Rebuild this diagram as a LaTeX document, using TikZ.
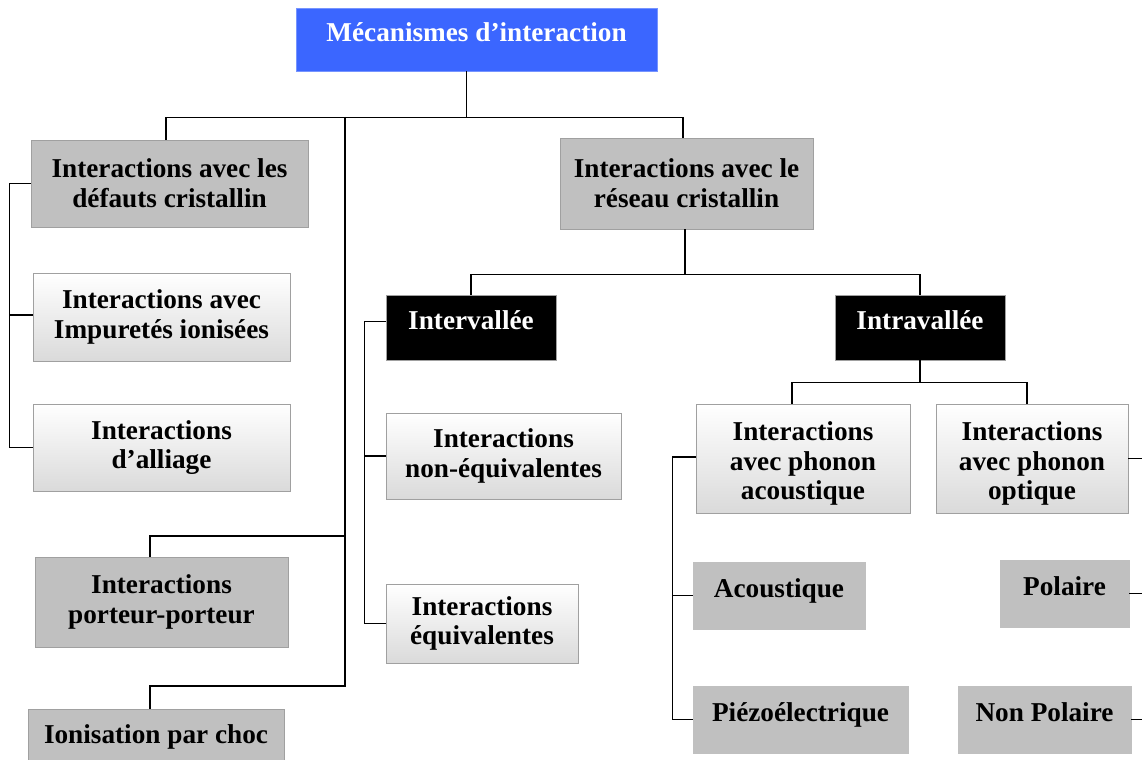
\documentclass[tikz,border=0pt]{standalone}
\usepackage{fontspec}
\setmainfont{Liberation Serif}
\usetikzlibrary{calc}
\definecolor{rootblue}{HTML}{3B66FF}
\definecolor{boxgray}{HTML}{C0C0C0}
\definecolor{edgegray}{HTML}{A0A0A0}
\definecolor{palegray}{HTML}{DADADA}

\begin{document}
\begin{tikzpicture}[x=0.02cm, y=-0.02cm,
		every node/.style={draw=edgegray, rectangle, line width=0.5pt, inner sep=2pt, align=center,
			font=\fontsize{15.5}{17}\selectfont\bfseries},
		rootbox/.style={fill=rootblue, draw=rootblue!70, text=white},
		greybox/.style={fill=boxgray},
		flatbox/.style={fill=boxgray, draw=boxgray},
		gradbox/.style={top color=white, bottom color=palegray},
		darkbox/.style={fill=black, text=white},
		oneline/.style={text depth=0.3cm},
		conn/.style={line width=0.8pt}]
	\path [use as bounding box] (0,0) rectangle (1142,760);
	\clip (0,0) rectangle (1142,760);
	\node (root) [rootbox, oneline, minimum width=7.22cm, minimum height=1.26cm] at (476.5,39.5) {Mécanismes d’interaction};
	\node (def) [greybox, minimum width=5.54cm, minimum height=1.74cm] at (169.5,183.5) {Interactions avec les\\ défauts cristallin};
	\node (imp) [gradbox, minimum width=5.14cm, minimum height=1.76cm] at (161.5,317) {Interactions avec\\ Impuretés ionisées};
	\node (all) [gradbox, minimum width=5.14cm, minimum height=1.74cm] at (161.5,447.5) {Interactions\\ d’alliage};
	\node (por) [greybox, minimum width=5.06cm, minimum height=1.8cm] at (161.5,602) {Interactions\\ porteur-porteur};
	\node (ion) [greybox, oneline, minimum width=5.12cm, minimum height=1.3cm] at (156,741.5) {Ionisation par choc};
	\node (res) [greybox, minimum width=5.06cm, minimum height=1.82cm] at (686.5,183.5) {Interactions avec le\\ réseau cristallin};
	\node (inter) [darkbox, oneline, minimum width=3.4cm, minimum height=1.3cm] at (471,327.5) {Intervallée};
	\node (intra) [darkbox, oneline, minimum width=3.4cm, minimum height=1.3cm] at (920,327.5) {Intravallée};
	\node (neq) [gradbox, minimum width=4.7cm, minimum height=1.72cm] at (503.5,456) {Interactions\\ non-équivalentes};
	\node (eq) [gradbox, minimum width=3.84cm, minimum height=1.58cm] at (482,623.5) {Interactions\\ équivalentes};
	\node (ac) [gradbox, minimum width=4.28cm, minimum height=2.18cm] at (803,458.5) {\rule{0pt}{16.5pt}Interactions\\ avec phonon\\ acoustique};
	\node (op) [gradbox, minimum width=3.84cm, minimum height=2.18cm] at (1032,458.5) {\rule{0pt}{16.5pt}Interactions\\ avec phonon\\ optique};
	\node (acou) [flatbox, oneline, minimum width=3.44cm, minimum height=1.34cm] at (779,595.5) {Acoustique};
	\node (piezo) [flatbox, oneline, minimum width=4.3cm, minimum height=1.34cm] at (800.5,719.5) {Piézoélectrique};
	\node (pol) [flatbox, oneline, minimum width=2.58cm, minimum height=1.34cm] at (1064.5,593.5) {Polaire};
	\node (npol) [flatbox, oneline, minimum width=3.46cm, minimum height=1.34cm] at (1044.5,719.5) {Non Polaire};

	\coordinate (rb) at ($(root.south)+(-10,46)$);
	\coordinate (sp) at (345,117);
	\coordinate (sp1) at (345,536);
	\coordinate (sp2) at (345,686);
	\draw [conn] ($(root.south)+(-10,0)$) -- (rb);
	\draw [conn] (rb) -| ($(def.north)+(-3.5,0)$);
	\draw [conn] (rb) -| ($(res.north)+(-3.5,0)$);
	\draw [conn] (sp) -- (sp2) -| ($(ion.north)+(-6,0)$);
	\draw [conn] (sp1) -| ($(por.north)+(-11.5,0)$);
	\draw [conn] (def.west) -- ++(-21,0) |- (all.west);
	\draw [conn] (def.west) -- ++(-21,0) |- ($(imp.west)+(0,-2)$);

	\coordinate (rr) at ($(res.south)+(-1.5,45)$);
	\draw [conn] ($(res.south)+(-1.5,0)$) -- (rr);
	\draw [conn] (rr) -| (inter.north);
	\draw [conn] (rr) -| (intra.north);
	\draw [conn] ($(inter.west)+(0,-6)$) -- ++(-21,0) |- (neq.west);
	\draw [conn] ($(inter.west)+(0,-6)$) -- ++(-21,0) |- (eq.west);

	\coordinate (ir) at ($(intra.south)+(0,22)$);
	\draw [conn] (intra.south) -- (ir);
	\draw [conn] (ir) -| ($(ac.north)+(-11,0)$);
	\draw [conn] (ir) -| ($(op.north)+(-5,0)$);
	\draw [conn] ($(ac.west)+(0,-1.5)$) -- ++(-23,0) |- (acou.west);
	\draw [conn] ($(ac.west)+(0,-1.5)$) -- ++(-23,0) |- (piezo.west);
	\draw [conn] (op.east) -- ++(30,0) |- (pol.east);
	\draw [conn] (op.east) -- ++(30,0) |- (npol.east);
\end{tikzpicture}
\end{document}
